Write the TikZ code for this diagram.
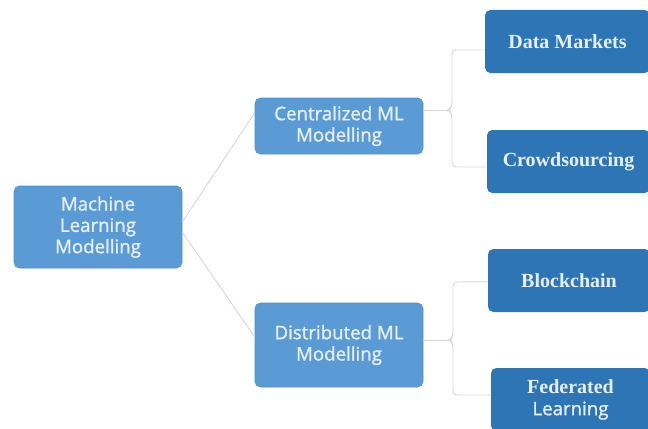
\documentclass[tikz,border=0pt]{standalone}
\usepackage{fontspec}
\setmainfont{Liberation Serif}
\newfontfamily\boxsans[FakeBold=1.2]{Open Sans}

\definecolor{lightbox}{HTML}{5B9BD5}
\definecolor{darkbox}{HTML}{2E75B6}
\definecolor{boxtext}{HTML}{E6F0FA}
\definecolor{linkgray}{HTML}{DCD8D3}

\tikzset{
  mainbox/.style={rectangle, rounded corners=4pt, fill=lightbox,
    draw=lightbox!92!black, line width=0.4pt, text=boxtext, align=center,
    inner sep=0pt, font=\boxsans\fontsize{14}{16}\selectfont},
  leafbox/.style={rectangle, rounded corners=4pt, fill=darkbox,
    text=boxtext, align=center, inner sep=0pt, minimum height=47.25pt,
    font=\bfseries\fontsize{15}{16.5}\selectfont},
  link/.style={draw=linkgray, line width=0.7pt},
}

\begin{document}
\begin{tikzpicture}[x=0.75pt, y=-0.75pt]
\clip (0,0) rectangle (648,428);
\fill[white] (0,0) rectangle (648,428);

% tree nodes
\node[mainbox, minimum width=126pt, minimum height=61.5pt] (root) at (98,227)
  {Machine\\Learning\\Modelling};
\node[mainbox, minimum width=126pt, minimum height=42pt] (cen) at (339,126)
  {Centralized ML\\Modelling};
\node[mainbox, minimum width=126pt, minimum height=63pt] (dis) at (339,345)
  {Distributed ML\\Modelling};

\node[leafbox, minimum width=123.75pt] (dm) at (567.5,41.5) {Data Markets};
\node[leafbox, minimum width=122.25pt] (cs) at (568.5,161.5) {Crowdsourcing};
\node[leafbox, minimum width=121.5pt] (bc) at (569,280.5) {Blockchain};
\node[leafbox, minimum width=119.25pt] (fl) at (570.5,399.5)
  {Federated\\{\boxsans\mdseries\fontsize{14}{16}\selectfont Learning}};

% root to the two modelling branches
\draw[link] ([yshift=3.75pt]root.east) -- ([yshift=10pt]cen.west);
\draw[link] ([yshift=-3.75pt]root.east) -- ([yshift=6pt]dis.west);

% bracket for centralized modelling
\draw[link] ([yshift=12pt]cen.east) -- (448,110);
\draw[link, rounded corners=3pt] ([yshift=-6.4pt]dm.west) -- (452,50)
  -- (452,106) -- (448,110) -- (452,114) -- (452,167)
  -- ([yshift=-4.1pt]cs.west);

% bracket for distributed modelling
\draw[link] ([yshift=3.75pt]dis.east) -- (449,340);
\draw[link, rounded corners=3pt] ([yshift=-1pt]bc.west) -- (453,282)
  -- (453,336) -- (449,340) -- (453,344) -- (453,395)
  -- ([yshift=3.4pt]fl.west);
\end{tikzpicture}
\end{document}
